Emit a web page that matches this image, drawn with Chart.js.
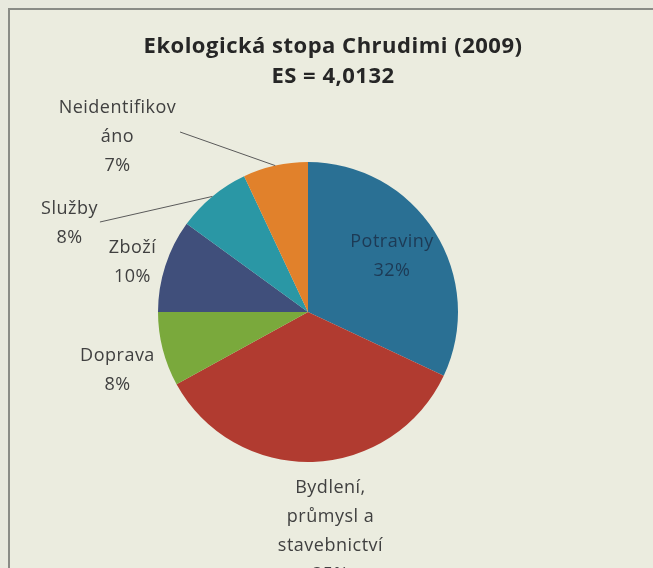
<!DOCTYPE html>
<html>
<head>
<meta charset="utf-8">
<script src="https://cdn.jsdelivr.net/npm/chart.js@4"></script>
<style>
  html, body { margin: 0; padding: 0; background: #e8e9de; }
  #wrap { width: 653px; height: 568px; position: relative; }
</style>
</head>
<body>
<div id="wrap"><canvas id="esChart"></canvas></div>
<script>
// data
const categories = ['Potraviny', 'Bydlení,\nprůmysl a\nstavebnictví', 'Doprava', 'Zboží', 'Služby', 'Neidentifikov\náno'];
const shares = [32, 35, 8, 10, 8, 7];
const sliceColors = ['#2a7094', '#b13b30', '#7aa93c', '#404f7b', '#2a97a5', '#e1812b'];
const titleLines = ['Ekologická stopa Chrudimi (2009)', 'ES = 4,0132'];

// where the labels sit, relative to the pie centre, in radius units
const labelSpots = [[0.56, -0.37], [0.15, 1.46], [-1.27, 0.39], [-1.17, -0.33], [-1.59, -0.59], [-1.27, -1.17]];
// leader line start (radius units) for labels that have one
const leaderStarts = [null, null, null, null, [-1.387, -0.6], [-0.853, -1.2]];

const labelPlugin = {
    id: 'esLabels',
    beforeDraw(chart) {
        const ctx = chart.ctx;
        ctx.save();
        ctx.fillStyle = '#e8e9de';
        ctx.fillRect(0, 0, chart.width, chart.height);
        ctx.fillStyle = '#ebecdf';
        ctx.fillRect(10, 10, chart.width, chart.height);
        ctx.strokeStyle = '#8a8c86';
        ctx.lineWidth = 2;
        ctx.strokeRect(9, 9, chart.width + 10, chart.height + 10);
        ctx.restore();
    },
    afterDatasetsDraw(chart) {
        const ctx = chart.ctx;
        const arcs = chart.getDatasetMeta(0).data;
        const total = shares.reduce((a, b) => a + b, 0);
        ctx.save();

        // title
        ctx.fillStyle = '#262626';
        ctx.textAlign = 'center';
        ctx.textBaseline = 'middle';
        ctx.letterSpacing = '0.5px';
        ctx.font = 'bold 22px "Open Sans"';
        ctx.fillText(titleLines[0], 333, 47);
        ctx.fillText(titleLines[1], 333, 77);

        arcs.forEach((arc, i) => {
            const p = arc.getProps(['x', 'y', 'startAngle', 'endAngle', 'outerRadius']);
            const r = p.outerRadius;
            const lx = p.x + labelSpots[i][0] * r;
            const ly = p.y + labelSpots[i][1] * r;

            // leader line
            if (leaderStarts[i]) {
                const mid = (p.startAngle + p.endAngle) / 2;
                ctx.strokeStyle = '#5a5a5a';
                ctx.lineWidth = 1;
                ctx.beginPath();
                ctx.moveTo(p.x + leaderStarts[i][0] * r, p.y + leaderStarts[i][1] * r);
                ctx.lineTo(p.x + Math.cos(mid) * r, p.y + Math.sin(mid) * r);
                ctx.stroke();
            }

            const lines = categories[i].split('\n');
            lines.push(Math.round(shares[i] / total * 100) + '%');
            const lh = 29;
            const y0 = ly - (lines.length - 1) * lh / 2;
            ctx.font = '18px "Open Sans"';
            ctx.fillStyle = i === 0 ? '#1d3a55' : '#404040';
            lines.forEach((t, k) => ctx.fillText(t, lx, y0 + k * lh));
        });
        ctx.restore();
    }
};

new Chart(document.getElementById('esChart'), {
    type: 'pie',
    data: {
        labels: categories,
        datasets: [{
            data: shares,
            backgroundColor: sliceColors,
            borderWidth: 0
        }]
    },
    options: {
        responsive: true,
        maintainAspectRatio: false,
        animation: false,
        layout: { padding: { left: 158, right: 195, top: 162, bottom: 106 } },
        plugins: {
            legend: { display: false },
            tooltip: { enabled: false }
        }
    },
    plugins: [labelPlugin]
});
</script>
</body>
</html>
